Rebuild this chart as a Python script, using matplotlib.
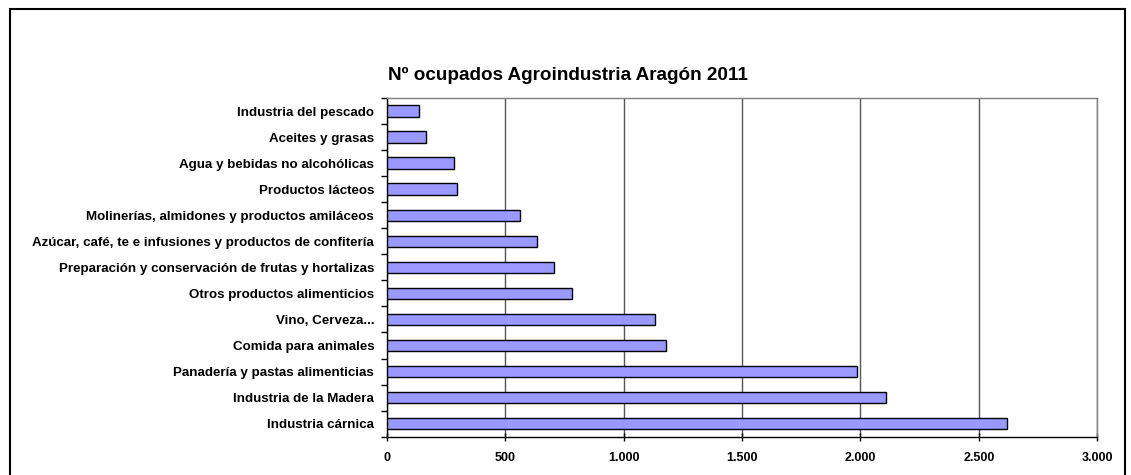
import matplotlib.pyplot as plt
from matplotlib.patches import Rectangle
from matplotlib.ticker import FixedLocator

categorias = [
    "Industria cárnica",
    "Industria de la Madera",
    "Panadería y pastas alimenticias",
    "Comida para animales",
    "Vino, Cerveza...",
    "Otros productos alimenticios",
    "Preparación y conservación de frutas y hortalizas",
    "Azúcar, café, te e infusiones y productos de confitería",
    "Molinerías, almidones y productos amiláceos",
    "Productos lácteos",
    "Agua y bebidas no alcohólicas",
    "Aceites y grasas",
    "Industria del pescado",
]
ocupados = [2618, 2108, 1984, 1180, 1134, 784, 708, 634, 564, 297, 285, 167, 138]
ticks_x = [0, 500, 1000, 1500, 2000, 2500, 3000]
etiquetas_x = ["0", "500", "1.000", "1.500", "2.000", "2.500", "3.000"]

plt.rcParams['font.family'] = ['Liberation Sans', 'DejaVu Sans']

fig = plt.figure(figsize=(11.31, 4.75), dpi=100)
ax = fig.add_axes([0.3419, 0.0806, 0.6283, 0.7131])

pos = list(range(len(categorias)))
ax.barh(pos, ocupados, height=0.44, color='#9999FF', edgecolor='black', linewidth=1.0, zorder=3)

ax.set_xlim(0, 3000)
ax.set_ylim(-0.5, len(categorias) - 0.5)
ax.set_xticks(ticks_x)
ax.set_xticklabels(etiquetas_x, fontsize=9, fontweight='bold')
ax.set_yticks(pos)
ax.set_yticklabels(categorias, fontsize=9.6, fontweight='bold')
ax.tick_params(axis='y', length=0, pad=9)
ax.yaxis.set_minor_locator(FixedLocator([p - 0.5 for p in range(len(categorias) + 1)]))
ax.tick_params(axis='y', which='minor', length=4, direction='out', width=1)
ax.tick_params(axis='x', length=6, direction='inout', width=1, pad=8)

ax.grid(axis='x', color='#555555', linewidth=1, zorder=0)
for lado in ['top', 'right']:
    ax.spines[lado].set_color('#808080')
    ax.spines[lado].set_linewidth(1)
for lado in ['left', 'bottom']:
    ax.spines[lado].set_color('black')
    ax.spines[lado].set_linewidth(1)

fig.text(0.502, 0.842, "Nº ocupados Agroindustria Aragón 2011", ha='center', va='center',
         fontsize=13.6, fontweight='bold')

# marco exterior del gráfico
fig.patches.append(Rectangle((0.0088, -0.05), 0.9858, 1.032, transform=fig.transFigure,
                             fill=False, edgecolor='black', linewidth=1.5))

fig.savefig('out.png', dpi=100)
